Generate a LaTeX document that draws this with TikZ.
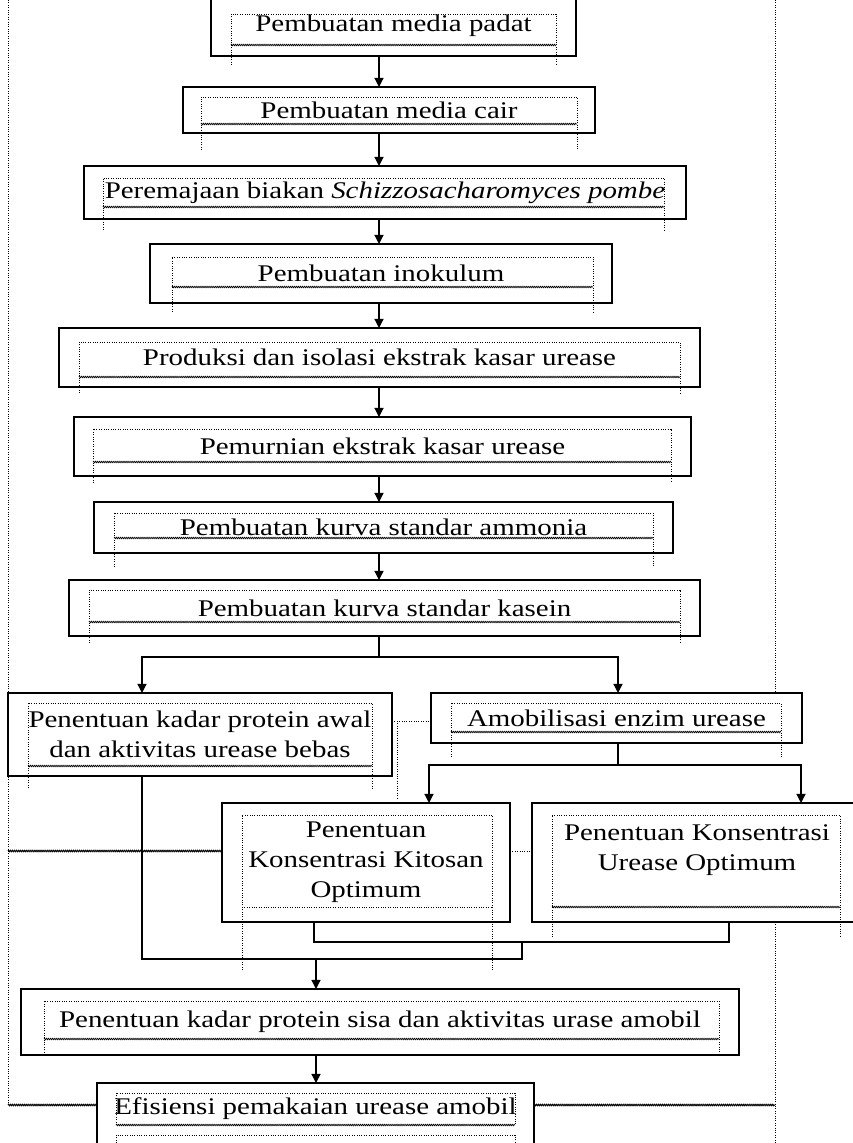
\documentclass[tikz,border=0pt]{standalone}
\usepackage{fontspec}
\setmainfont{Liberation Serif}[FakeStretch=1.21]
\usetikzlibrary{arrows.meta,decorations.pathmorphing}

\begin{document}
\begin{tikzpicture}[x=0.025cm,y=-0.025cm,
	box/.style={draw,line width=1.3pt,fill=white,inner sep=0pt,outer sep=0pt,align=center,font=\fontsize{17}{21.3}\selectfont},
	dots/.style={densely dotted,line width=0.7pt},
	wavy/.style={decorate,decoration={zigzag,segment length=1.4pt,amplitude=0.5pt},line width=0.5pt},
	arr/.style={line width=0.9pt,-{Triangle[length=6.5pt,width=6.5pt]}},
	link/.style={line width=0.9pt}]
	\useasboundingbox (0,0) rectangle (853,1143);
	% dotted frame behind the boxes
	\draw[dots] (8,0) -- (8,1105);
	\draw[dots] (775,0) -- (775,693);
	\draw[dots] (775,922) -- (775,1143);

	\node[box,minimum width=9.125cm,minimum height=1.525cm] (b1) at (393.5,25.5) {Pembuatan media padat};
	\node[box,minimum width=10.3cm,minimum height=1.15cm] (b2) at (389,110) {Pembuatan media cair};
	\node[box,minimum width=15.05cm,minimum height=1.325cm] (b3) at (385,192.5) {Peremajaan biakan \textit{Schizzosacharomyces pombe}};
	\node[box,minimum width=11.55cm,minimum height=1.475cm] (b4) at (381,273.5) {Pembuatan inokulum};
	\node[box,minimum width=16.025cm,minimum height=1.475cm] (b5) at (379.5,357.5) {Produksi dan isolasi ekstrak kasar urease};
	\node[box,minimum width=15.425cm,minimum height=1.475cm] (b6) at (382.5,446.5) {Pemurnian ekstrak kasar urease};
	\node[box,minimum width=14.475cm,minimum height=1.275cm] (b7) at (383.5,527.5) {Pembuatan kurva standar ammonia};
	\node[box,minimum width=15.775cm,minimum height=1.4cm] (b8) at (384.5,608) {Pembuatan kurva standar kasein};
	\node[box,minimum width=9.6cm,minimum height=2.075cm] (b9) at (200,734.5) {Penentuan kadar protein awal\\dan aktivitas urease bebas};
	\node[box,minimum width=9.275cm,minimum height=1.25cm] (b10) at (616.5,718) {Amobilisasi enzim urease};
	\node[box,minimum width=7.2cm,minimum height=2.975cm] (b11) at (366,862.5) {Penentuan\\Konsentrasi Kitosan\\Optimum};
	\node[box,minimum width=8.25cm,minimum height=2.975cm] (b12) at (697,862.5) {Penentuan Konsentrasi\\Urease Optimum\\~};
	\node[box,minimum width=17.95cm,minimum height=1.65cm] (b13) at (380,1022) {Penentuan kadar protein sisa dan aktivitas urase amobil};
	\node[box,minimum width=10.925cm,minimum height=1.925cm] (b14) at (315.5,1121.5) {Efisiensi pemakaian urease amobil\\~};

	% inner dotted frames
	\draw[dots] (231,65) |- (556,14) -- (556,65);
	\draw[wavy] (231,45) -- (556,45);
	\draw[dots] (201,150) |- (577,97) -- (577,150);
	\draw[wavy] (201,124) -- (577,124);
	\draw[dots] (103,230) |- (664,178) -- (664,230);
	\draw[wavy] (103,207) -- (664,207);
	\draw[dots] (172,312) |- (593,257) -- (593,312);
	\draw[wavy] (172,287) -- (593,287);
	\draw[dots] (79,393) |- (680,342) -- (680,393);
	\draw[wavy] (79,377) -- (680,377);
	\draw[dots] (93,483) |- (671,429) -- (671,483);
	\draw[wavy] (93,462) -- (671,462);
	\draw[dots] (114,567) |- (653,513) -- (653,567);
	\draw[wavy] (114,538) -- (653,538);
	\draw[dots] (89,643) |- (680,590) -- (680,643);
	\draw[wavy] (89,622) -- (680,622);
	\draw[dots] (28,788) |- (372,703) -- (372,788);
	\draw[wavy] (28,766) -- (372,766);
	\draw[dots] (451,757) |- (781,703) -- (781,757);
	\draw[wavy] (451,732) -- (781,732);
	\draw[dots] (242,970) |- (492,815) -- (492,970);
	\draw[dots] (242,907) -- (492,907);
	\draw[dots] (552,937) |- (840,815) -- (840,937);
	\draw[wavy] (552,907) -- (840,907);
	\draw[dots] (44,1055) |- (719,1001) -- (719,1055);
	\draw[wavy] (44,1039) -- (719,1039);
	\draw[dots] (116,1125) |- (515,1093) -- (515,1125);
	\draw[wavy] (116,1125) -- (515,1125);
	\draw[dots] (116,1143) |- (515,1135) -- (515,1143);

	% connectors
	\coordinate (sp) at (379,0);
	\draw[arr] (b1.south -| sp) -- (b2.north -| sp);
	\draw[arr] (b2.south -| sp) -- (b3.north -| sp);
	\draw[arr] (b3.south -| sp) -- (b4.north -| sp);
	\draw[arr] (b4.south -| sp) -- (b5.north -| sp);
	\draw[arr] (b5.south -| sp) -- (b6.north -| sp);
	\draw[arr] (b6.south -| sp) -- (b7.north -| sp);
	\draw[arr] (b7.south -| sp) -- (b8.north -| sp);
	\coordinate (j1) at (379,657);
	\coordinate (l1) at (142,0);
	\coordinate (r1) at (618,0);
	\draw[link] (b8.south -| sp) -- (j1);
	\draw[arr] (j1) -| (b9.north -| l1);
	\draw[arr] (j1) -| (b10.north -| r1);
	\coordinate (j2) at (618,765);
	\coordinate (l2) at (429,0);
	\coordinate (r2) at (801,0);
	\draw[link] (b10.south -| r1) -- (j2);
	\draw[arr] (j2) -| (b11.north -| l2);
	\draw[arr] (j2) -| (b12.north -| r2);
	\coordinate (l3) at (314,0);
	\coordinate (r3) at (729,0);
	\draw[link] (b11.south -| l3) -- ++(0,20) -| (b12.south -| r3);
	\coordinate (j3) at (522,959);
	\draw[link] (b9.south -| l1) |- (j3) -- ++(0,-17);
	\coordinate (m3) at (316,959);
	\draw[arr] (m3) -- (b13.north -| m3);
	\draw[arr] (b13.south -| m3) -- (b14.north -| m3);

	% dotted ties between boxes
	\coordinate (d1) at (0,721);
	\coordinate (d2) at (0,851);
	\coordinate (d3) at (0,1105);
	\draw[dots] (b9.east |- d1) -- (b10.west |- d1);
	\draw[dots] (397,721) -- (397,798);
	\draw[dots] (b11.east |- d2) -- (b12.west |- d2);
	\draw[wavy,line width=0.7pt] (8,851) -- (b11.west |- d2);
	\draw[wavy,line width=0.7pt] (8,1105) -- (b14.west |- d3);
	\draw[wavy,line width=0.7pt] (b14.east |- d3) -- (775,1105);
\end{tikzpicture}
\end{document}
